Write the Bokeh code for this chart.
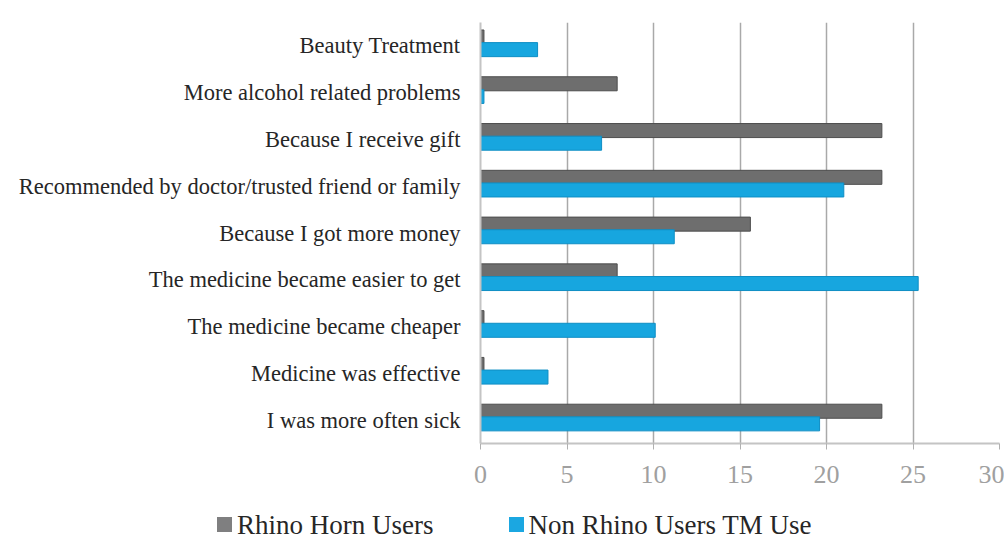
from bokeh.plotting import figure
from bokeh.layouts import column
from bokeh.models import ColumnDataSource, FactorRange, FixedTicker, Range1d, Div
from bokeh.transform import dodge
from bokeh.embed import file_html
from bokeh.resources import INLINE

categories = [
    "I was more often sick",
    "Medicine was effective",
    "The medicine became cheaper",
    "The medicine became easier to get",
    "Because I got more money",
    "Recommended by doctor/trusted friend or family",
    "Because I receive gift",
    "More alcohol related problems",
    "Beauty Treatment",
]
rhino_horn_users = [23.2, 0.2, 0.2, 7.9, 15.6, 23.2, 23.2, 7.9, 0.2]
non_rhino_tm_use = [19.6, 3.9, 10.1, 25.3, 11.2, 21.0, 7.0, 0.2, 3.3]
x_ticks = [0, 5, 10, 15, 20, 25, 30]
series_names = ["Rhino Horn Users", "Non Rhino Users TM Use"]
series_colors = ["#6e6e6e", "#17a6df"]
legend_colors = ["#7f7f80", "#1ba7e1"]
edge_colors = ["#4d4d4d", "#0f8ec4"]

src = ColumnDataSource(dict(cat=categories, rhino=rhino_horn_users, non=non_rhino_tm_use))

FONT = "Liberation Serif"

p = figure(
    width=1004, height=492,
    y_range=FactorRange(*categories, range_padding=0),
    x_range=Range1d(0, 30),
    output_backend="svg", toolbar_location=None,
    min_border_left=480, min_border_right=5, min_border_top=22, min_border_bottom=49,
)
p.outline_line_color = None
p.background_fill_color = "white"
p.border_fill_color = "white"

p.hbar(y=dodge("cat", 0.19, range=p.y_range), right="rhino", left=0, height=0.3,
       source=src, fill_color=series_colors[0], line_color=edge_colors[0], line_width=1)
p.hbar(y=dodge("cat", -0.08, range=p.y_range), right="non", left=0, height=0.3,
       source=src, fill_color=series_colors[1], line_color=edge_colors[1], line_width=1)

# grid
p.ygrid.grid_line_color = None
p.xgrid.ticker = FixedTicker(ticks=x_ticks[:-1])
p.xgrid.grid_line_color = "#a9a9a9"
p.xgrid.grid_line_width = 1.5

# x axis
p.xaxis.ticker = FixedTicker(ticks=x_ticks)
p.xaxis.axis_line_color = "#c4c4c4"
p.xaxis.axis_line_width = 2
p.xaxis.major_tick_line_color = "#b0b0b0"
p.xaxis.major_tick_out = 6
p.xaxis.major_tick_in = 0
p.xaxis.minor_tick_line_color = None
p.xaxis.major_label_text_font = FONT
p.xaxis.major_label_text_font_size = "26px"
p.xaxis.major_label_text_color = "#a0a0a0"
p.xaxis.major_label_standoff = 16

# y axis
p.yaxis.axis_line_color = "#c4c4c4"
p.yaxis.axis_line_width = 2
p.yaxis.major_tick_line_color = None
p.yaxis.major_tick_out = 4
p.yaxis.major_tick_in = 0
p.yaxis.major_label_standoff = 16
p.yaxis.major_label_text_font = FONT
p.yaxis.major_label_text_font_size = "22.5px"
p.yaxis.major_label_text_color = "#262626"

# legend strip below the chart
entries = []
for i, (name, col) in enumerate(zip(series_names, legend_colors)):
    gap = "0" if i == 0 else "75px"
    entries.append(
        f'<span style="display:inline-flex;align-items:center;margin-left:{gap};">'
        f'<span style="display:inline-block;width:15px;height:15px;background:{col};'
        f'margin-right:5px;"></span>{name}</span>'
    )
legend_html = (
    f'<div style="font-family:\'{FONT}\';font-size:27px;color:#262626;line-height:30px;'
    f'padding-left:217px;padding-top:16px;white-space:nowrap;">' + "".join(entries) + "</div>"
)
legend_div = Div(text=legend_html, width=1004, height=48, margin=(0, 0, 0, 0))

layout = column(p, legend_div, spacing=0)
open("out.html", "w").write(file_html(layout, INLINE))
